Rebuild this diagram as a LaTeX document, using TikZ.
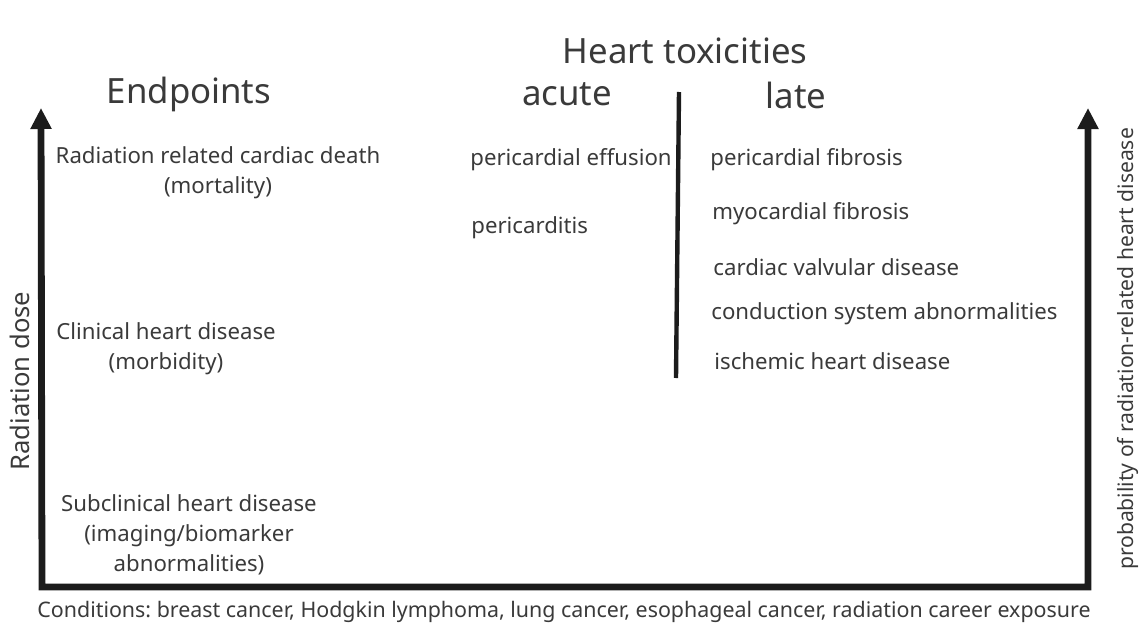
\documentclass[tikz,border=0pt]{standalone}
\usepackage{fontspec}
\setmainfont{Noto Sans}
\usetikzlibrary{arrows.meta}
\definecolor{txtgray}{HTML}{3A3A3A}
\definecolor{axisblack}{HTML}{1C1C1C}
\frenchspacing

\begin{document}
\begin{tikzpicture}[x=0.5pt,y=-0.5pt,
    lbl/.style={text=txtgray,font=\fontsize{11.1}{13}\selectfont,inner sep=0pt},
    head/.style={text=txtgray,font=\fontsize{17.4}{20}\selectfont,inner sep=0pt},
    axis/.style={draw=axisblack,line width=3.4pt,line join=miter}]
        \useasboundingbox (0,0) rectangle (1148,627);

        % axes
        \coordinate (ltop) at (41,108);
        \coordinate (lcorner) at (42,587);
        \coordinate (rcorner) at (1088,587);
        \coordinate (rtop) at (1088,108);
        \draw[axis,{Triangle[length=10.5pt,width=10pt]}-{Triangle[length=10.5pt,width=10pt]}] (ltop) -- (lcorner) -- (rcorner) -- (rtop);

        \node[lbl,font=\fontsize{12.8}{15}\selectfont,rotate=90] (dose) at (20,381) {Radiation dose};
        \node[lbl,font=\fontsize{10.55}{13}\selectfont,rotate=90] (prob) at (1128,349) {probability of radiation-related heart disease};

        % headings
        \node[head] (tox) at (685,51) {Heart toxicities};
        \node[head] (endp) at (189,94) {Endpoints};
        \node[head] (acute) at (567,94) {acute};
        \node[head] (late) at (796,95) {late};

        % acute / late divider
        \coordinate (dtop) at (679,92);
        \coordinate (dbot) at (676,378);
        \draw[draw=axisblack,line width=2.2pt] (dtop) -- (dbot);

        % endpoints
        \node[lbl,align=center] (death) at (218,173) {Radiation related cardiac death\\[2pt](mortality)};
        \node[lbl,align=center] (clin) at (166,349) {Clinical heart disease\\[2pt](morbidity)};
        \node[lbl,align=center] (subc) at (189,535) {Subclinical heart disease\\[2pt](imaging/biomarker\\[2pt]abnormalities)};

        % acute toxicities
        \node[lbl,anchor=west] (effus) at (470,160) {pericardial effusion};
        \node[lbl,anchor=west] (peric) at (471,228) {pericarditis};

        % late toxicities
        \node[lbl,anchor=west] (pfib) at (710,160) {pericardial fibrosis};
        \node[lbl,anchor=west] (mfib) at (712,214) {myocardial fibrosis};
        \node[lbl,anchor=west] (valv) at (713,267) {cardiac valvular disease};
        \node[lbl,anchor=west] (cond) at (711,314) {conduction system abnormalities};
        \node[lbl,anchor=west] (isch) at (714,361) {ischemic heart disease};

        \node[lbl,font=\fontsize{10.7}{13}\selectfont] (cndtn) at (564,612) {Conditions: breast cancer, Hodgkin lymphoma, lung cancer, esophageal cancer, radiation career exposure};
    \end{tikzpicture}
\end{document}
